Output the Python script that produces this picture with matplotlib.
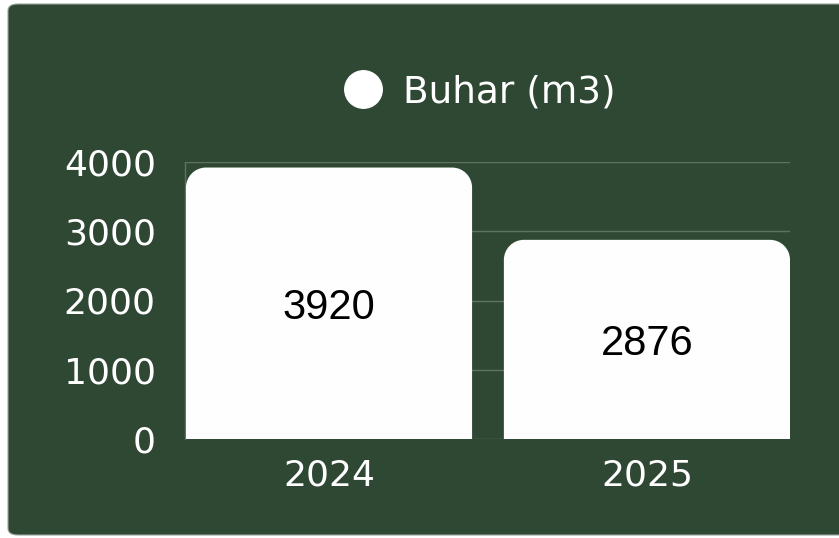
"""Bar chart: steam (Buhar) usage per year on a dark green card."""

import matplotlib

matplotlib.use("Agg")
import matplotlib.pyplot as plt
from matplotlib.lines import Line2D
from matplotlib.patches import FancyBboxPatch, PathPatch
from matplotlib.path import Path

years = ["2024", "2025"]
buhar = [3920, 2876]
y_ticks = [0, 1000, 2000, 3000, 4000]
series_label = "Buhar (m3)"

BG = "#2f4834"
GRID = "#5d7261"
W, H = 839, 538


def rounded_top(x0, y0, w, h, rx, ry):
    # rectangle with rounded top corners, in data units
    k = 0.5523
    verts = [
        (x0, y0),
        (x0, y0 + h - ry),
        (x0, y0 + h - ry + k * ry), (x0 + rx - k * rx, y0 + h), (x0 + rx, y0 + h),
        (x0 + w - rx, y0 + h),
        (x0 + w - rx + k * rx, y0 + h), (x0 + w, y0 + h - ry + k * ry), (x0 + w, y0 + h - ry),
        (x0 + w, y0),
        (x0, y0),
    ]
    codes = [Path.MOVETO, Path.LINETO,
             Path.CURVE4, Path.CURVE4, Path.CURVE4,
             Path.LINETO,
             Path.CURVE4, Path.CURVE4, Path.CURVE4,
             Path.LINETO, Path.CLOSEPOLY]
    return Path(verts, codes)


fig = plt.figure(figsize=(W / 100, H / 100), dpi=100, facecolor="white")

# green card
card = FancyBboxPatch((8 / W, 3 / H), (W + 30) / W, 531 / H,
                      boxstyle="round,pad=0,rounding_size=0.012",
                      transform=fig.transFigure, facecolor=BG, edgecolor="#9aa59c",
                      linewidth=0.8, zorder=-5)
fig.patches.append(card)

ax = fig.add_axes([185 / W, 1 - 439 / H, (790 - 185) / W, (439 - 162) / H])
ax.set_facecolor("none")
ax.set_zorder(2)

xs = list(range(len(years)))
bars = ax.bar(xs, buhar, width=0.9, color="white")
ax.set_xlim(-0.453, 1.45)
ax.set_ylim(0, 4000)

# swap plain rectangles for rounded-top ones (~20 px corner radius)
px_x = (790 - 185) / (1.45 + 0.453)
px_y = (439 - 162) / 4000
for b in bars:
    b.set_visible(False)
    path = rounded_top(b.get_x(), 0, b.get_width(), b.get_height(), 20 / px_x, 20 / px_y)
    ax.add_patch(PathPatch(path, facecolor="#fefefe", edgecolor="none", zorder=3))
    ax.text(b.get_x() + b.get_width() / 2, b.get_height() / 2, f"{b.get_height():.0f}",
            ha="center", va="center_baseline", fontsize=30, color="black",
            family="Liberation Sans", zorder=4)

ax.set_yticks(y_ticks)
ax.set_xticks(xs)
ax.set_xticklabels(years)
ax.tick_params(axis="both", length=0, colors="white", labelsize=26)
ax.tick_params(axis="y", pad=21)
ax.tick_params(axis="x", pad=14)
ax.grid(axis="y", color=GRID, linewidth=1, zorder=1)
ax.set_axisbelow(True)
for side in ["top", "right", "bottom"]:
    ax.spines[side].set_visible(False)
ax.spines["left"].set_color(GRID)
ax.spines["left"].set_linewidth(1)

handle = Line2D([], [], marker="o", linestyle="none", markersize=27,
                markerfacecolor="white", markeredgecolor="white")
leg = fig.legend([handle], [series_label], loc="center", frameon=False,
                 bbox_to_anchor=(480 / W, 1 - 92 / H), fontsize=27,
                 handletextpad=0.55, handlelength=1.0)
for t in leg.get_texts():
    t.set_color("white")

fig.savefig("out.png", dpi=100, facecolor="white")
